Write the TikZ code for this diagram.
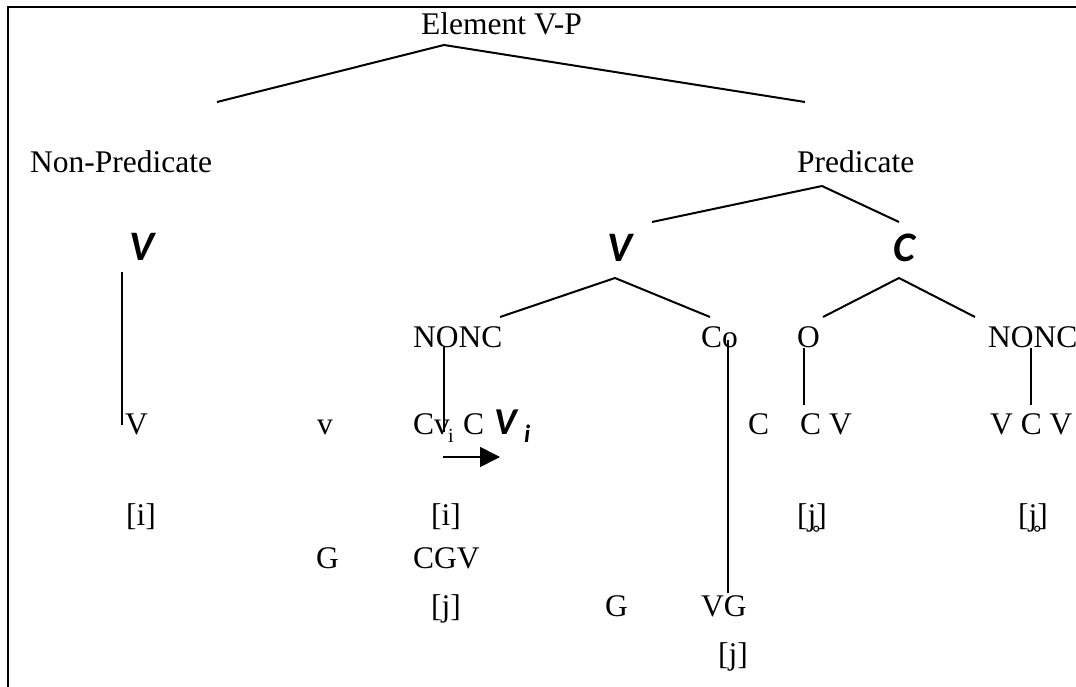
\documentclass[tikz,border=0pt]{standalone}
\usepackage{fontspec}
\setmainfont{Liberation Serif}
\newfontfamily\tagfont{Carlito}
\usetikzlibrary{arrows.meta}
\begin{document}
\begin{tikzpicture}[x=1pt,y=-1pt,
  lbl/.style={anchor=base west,inner sep=0pt,font=\fontsize{31.5}{36}\selectfont},
  tag/.style={anchor=base west,inner sep=0pt,font=\tagfont\bfseries\itshape\fontsize{42}{44}\selectfont},
  branch/.style={line width=2pt},
  stem/.style={line width=1.6pt},
  frame/.style={line width=2.4pt}]
\useasboundingbox (0,0) rectangle (1076,687);
\draw[frame] (8,687) -- (8,7) -- (1076,7);

% top level
\node[lbl] (root) at (421,35) {Element V-P};
\coordinate (rootA) at (444,45);
\coordinate (rootL) at (217,102);
\coordinate (rootR) at (805,102);
\draw[branch] (rootL) -- (rootA) -- (rootR);

\node[lbl] (nonpred) at (30,173) {Non-Predicate};
\node[lbl] (pred) at (797,173) {Predicate};
\coordinate (predA) at (822,186);
\coordinate (predL) at (652,222);
\coordinate (predR) at (899,222);
\draw[branch] (predL) -- (predA) -- (predR);

% category letters
\node[tag] (vleft) at (129,260) {V};
\node[tag] (vmid) at (607,261) {V};
\node[tag] (cright) at (893,261) {C};

% V subtree
\coordinate (vA) at (615,278);
\coordinate (vL) at (500,317);
\coordinate (vR) at (710,317);
\draw[branch] (vL) -- (vA) -- (vR);
% C subtree
\coordinate (cA) at (899,278);
\coordinate (cL) at (823,317);
\coordinate (cR) at (975,317);
\draw[branch] (cL) -- (cA) -- (cR);

\node[lbl] (nonc1) at (413,347) {NONC};
\node[lbl] (co) at (701,347) {Co};
\node[lbl] (o) at (797,347) {O};
\node[lbl] (nonc2) at (988,347) {NONC};

% segment row
\node[lbl] (sV) at (125,434) {V};
\node[lbl] (sv) at (317,434) {v};
\node[lbl] (sCv) at (413,434) {Cv};
\node[anchor=base west,inner sep=0pt,font=\fontsize{20}{22}\selectfont] (sub1) at (448,442) {i};
\node[lbl] (sC) at (463,434) {C};
\node[tag,font=\tagfont\bfseries\itshape\fontsize{38}{40}\selectfont] (sVi) at (494,434) {V};
\node[tag,font=\tagfont\bfseries\itshape\fontsize{25}{27}\selectfont] (sub2) at (524,442) {i};
\node[lbl] (sC2) at (748,434) {C};
\node[lbl] (sCV) at (800,434) {C V};
\node[lbl] (sVCV) at (990,434) {V C V};

% vertical stems
\coordinate (l1a) at (122,272);
\coordinate (l1b) at (122,425);
\draw[stem] (l1a) -- (l1b);
\coordinate (l2a) at (444,347);
\coordinate (l2b) at (444,432);
\draw[stem] (l2a) -- (l2b);
\coordinate (l3a) at (728,340);
\coordinate (l3b) at (728,593);
\draw[stem] (l3a) -- (l3b);
\coordinate (l4a) at (804,348);
\coordinate (l4b) at (804,405);
\draw[stem] (l4a) -- (l4b);
\coordinate (l5a) at (1031,348);
\coordinate (l5b) at (1031,405);
\draw[stem] (l5a) -- (l5b);

% arrow
\coordinate (arA) at (443,457);
\coordinate (arB) at (500,457);
\draw[line width=1.6pt,-{Triangle[length=20pt,width=20pt]}] (arA) -- (arB);

% lower rows
\node[lbl] (i1) at (126,525) {[i]};
\node[lbl] (i2) at (431,525) {[i]};
\node[lbl] (j1) at (797,525) {[j̥]};
\node[lbl] (j2) at (1018,525) {[j̥]};

\node[lbl] (g1) at (316,568) {G};
\node[lbl] (cgv) at (413,568) {CGV};

\node[lbl] (j3) at (431,616) {[j]};
\node[lbl] (g2) at (605,616) {G};
\node[lbl] (vg) at (701,616) {VG};

\node[lbl] (j4) at (718,664) {[j]};
\end{tikzpicture}
\end{document}
